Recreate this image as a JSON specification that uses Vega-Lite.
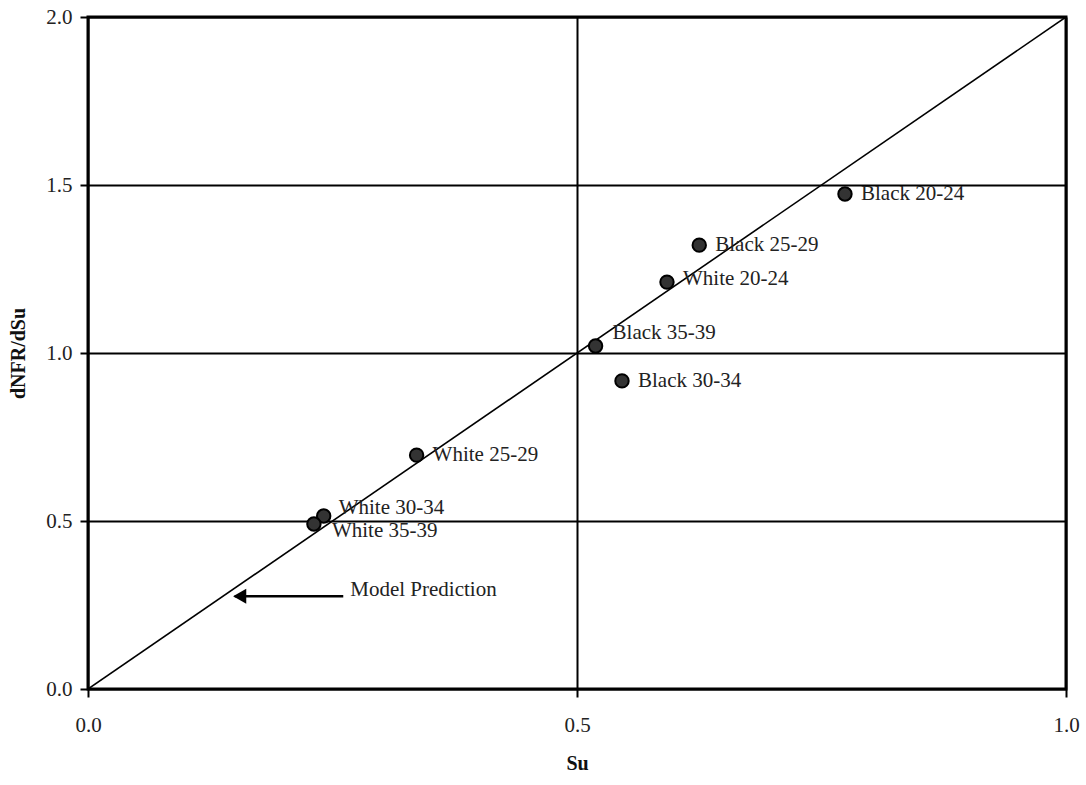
{
  "$schema": "https://vega.github.io/schema/vega-lite/v6.json",
  "autosize": "none",
  "width": 978,
  "height": 672,
  "padding": {"left": 88, "top": 17, "right": 20, "bottom": 96},
  "background": "white",
  "config": {
    "view": {"stroke": "black", "strokeWidth": 3},
    "font": "Liberation Serif",
    "axis": {
      "labelFont": "Liberation Serif",
      "titleFont": "Liberation Serif",
      "labelFontSize": 21,
      "titleFontSize": 20,
      "labelColor": "#222",
      "titleColor": "#111",
      "tickColor": "black",
      "tickWidth": 2,
      "tickSize": 8,
      "domain": false,
      "gridColor": "black",
      "gridWidth": 2,
      "gridOpacity": 1
    }
  },
  "datasets": {
    "points": [
      {"group": "Black 20-24", "Su": 0.774, "dNFR": 1.473},
      {"group": "Black 25-29", "Su": 0.625, "dNFR": 1.321},
      {"group": "White 20-24", "Su": 0.592, "dNFR": 1.211},
      {"group": "Black 35-39", "Su": 0.519, "dNFR": 1.021},
      {"group": "Black 30-34", "Su": 0.546, "dNFR": 0.917},
      {"group": "White 25-29", "Su": 0.336, "dNFR": 0.696},
      {"group": "White 30-34", "Su": 0.241, "dNFR": 0.515},
      {"group": "White 35-39", "Su": 0.231, "dNFR": 0.491}
    ],
    "model": [
      {"Su": 0, "dNFR": 0},
      {"Su": 1, "dNFR": 2}
    ],
    "arrow": [
      {"x0": 0.150, "x1": 0.261, "y": 0.276, "label": "Model Prediction"}
    ]
  },
  "layer": [
    {
      "data": {"name": "model"},
      "mark": {"type": "line", "color": "black", "strokeWidth": 1.6, "clip": true},
      "encoding": {
        "x": {
          "field": "Su", "type": "quantitative",
          "scale": {"domain": [0, 1], "nice": false, "zero": false},
          "axis": {
            "title": "Su", "titleFontWeight": "bold", "values": [0, 0.5, 1],
            "format": ".1f", "labelPadding": 17, "titlePadding": 18,
            "grid": true, "labelFlush": false
          }
        },
        "y": {
          "field": "dNFR", "type": "quantitative",
          "scale": {"domain": [0, 2], "nice": false, "zero": false},
          "axis": {
            "title": "dNFR/dSu", "titleFontWeight": "bold",
            "values": [0, 0.5, 1, 1.5, 2], "format": ".1f",
            "labelPadding": 8, "titlePadding": 17, "grid": true, "labelFlush": false
          }
        }
      }
    },
    {
      "data": {"name": "arrow"},
      "mark": {"type": "rule", "color": "black", "strokeWidth": 2.5},
      "encoding": {
        "x": {"field": "x0", "type": "quantitative"},
        "x2": {"field": "x1"},
        "y": {"field": "y", "type": "quantitative"}
      }
    },
    {
      "data": {"name": "arrow"},
      "mark": {"type": "point", "shape": "triangle-left", "filled": true, "color": "black", "size": 230, "opacity": 1, "xOffset": 5},
      "encoding": {
        "x": {"field": "x0", "type": "quantitative"},
        "y": {"field": "y", "type": "quantitative"}
      }
    },
    {
      "data": {"name": "arrow"},
      "mark": {"type": "text", "align": "left", "baseline": "middle", "dx": 7, "dy": -6, "fontSize": 21, "font": "Liberation Serif", "color": "#222"},
      "encoding": {
        "x": {"field": "x1", "type": "quantitative"},
        "y": {"field": "y", "type": "quantitative"},
        "text": {"field": "label"}
      }
    },
    {
      "data": {"name": "points"},
      "mark": {"type": "point", "shape": "circle", "filled": true, "fill": "#333", "stroke": "black", "strokeWidth": 2, "size": 180, "opacity": 1},
      "encoding": {
        "x": {"field": "Su", "type": "quantitative"},
        "y": {"field": "dNFR", "type": "quantitative"}
      }
    },
    {
      "data": {"name": "points"},
      "transform": [{"filter": "indexof(['Black 35-39','White 30-34','White 35-39','White 20-24'], datum.group) < 0"}],
      "mark": {"type": "text", "align": "left", "baseline": "middle", "dx": 16, "fontSize": 21, "font": "Liberation Serif", "color": "#222"},
      "encoding": {
        "x": {"field": "Su", "type": "quantitative"},
        "y": {"field": "dNFR", "type": "quantitative"},
        "text": {"field": "group"}
      }
    },
    {
      "data": {"name": "points"},
      "transform": [{"filter": "datum.group === 'White 20-24'"}],
      "mark": {"type": "text", "align": "left", "baseline": "middle", "dx": 16, "dy": -3, "fontSize": 21, "font": "Liberation Serif", "color": "#222"},
      "encoding": {
        "x": {"field": "Su", "type": "quantitative"},
        "y": {"field": "dNFR", "type": "quantitative"},
        "text": {"field": "group"}
      }
    },
    {
      "data": {"name": "points"},
      "transform": [{"filter": "datum.group === 'Black 35-39'"}],
      "mark": {"type": "text", "align": "left", "baseline": "middle", "dx": 17, "dy": -13, "fontSize": 21, "font": "Liberation Serif", "color": "#222"},
      "encoding": {
        "x": {"field": "Su", "type": "quantitative"},
        "y": {"field": "dNFR", "type": "quantitative"},
        "text": {"field": "group"}
      }
    },
    {
      "data": {"name": "points"},
      "transform": [{"filter": "datum.group === 'White 30-34'"}],
      "mark": {"type": "text", "align": "left", "baseline": "middle", "dx": 15, "dy": -8, "fontSize": 21, "font": "Liberation Serif", "color": "#222"},
      "encoding": {
        "x": {"field": "Su", "type": "quantitative"},
        "y": {"field": "dNFR", "type": "quantitative"},
        "text": {"field": "group"}
      }
    },
    {
      "data": {"name": "points"},
      "transform": [{"filter": "datum.group === 'White 35-39'"}],
      "mark": {"type": "text", "align": "left", "baseline": "middle", "dx": 18, "dy": 7, "fontSize": 21, "font": "Liberation Serif", "color": "#222"},
      "encoding": {
        "x": {"field": "Su", "type": "quantitative"},
        "y": {"field": "dNFR", "type": "quantitative"},
        "text": {"field": "group"}
      }
    }
  ]
}
